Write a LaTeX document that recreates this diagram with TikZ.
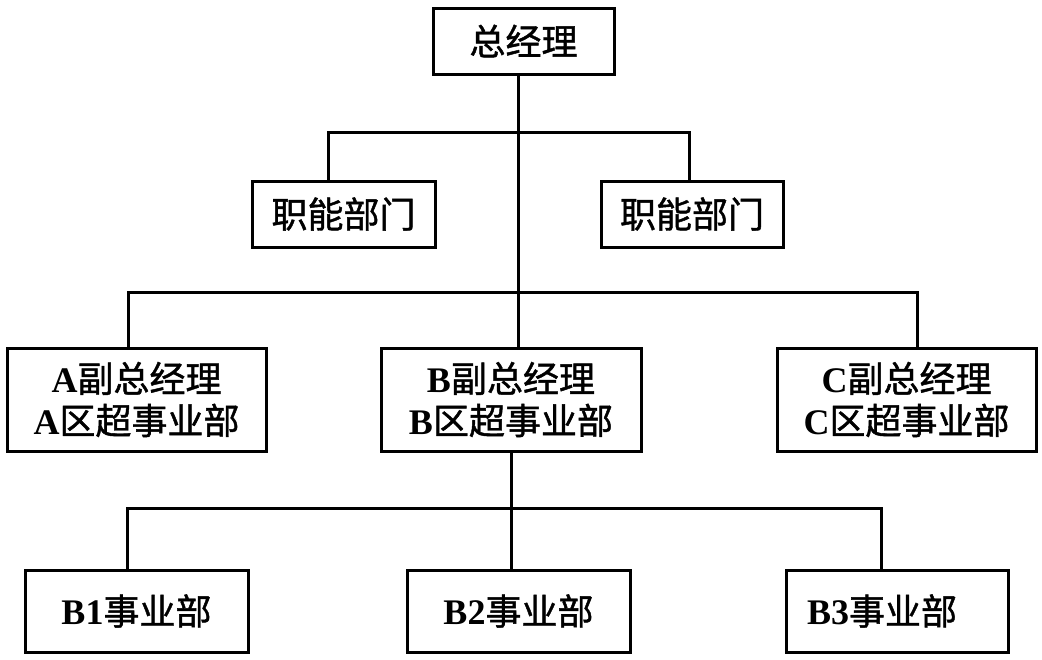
\documentclass[tikz,border=0pt]{standalone}
\usepackage{fontspec}
\usepackage{tikz}
\setmainfont{Liberation Serif}
\newfontfamily\cjk[FakeBold=1.2]{Noto Sans CJK SC}
\newcommand{\zh}[1]{{\cjk\mdseries #1}}

\begin{document}
\begin{tikzpicture}[x=1pt,y=-1pt,
    unit/.style={draw, line width=3pt, inner sep=0pt, align=center,
      font=\fontsize{36}{42}\selectfont\bfseries},
    link/.style={line width=3pt}]
        \useasboundingbox (0,0) rectangle (1042,659);
        % top level
        \node[unit, minimum width=181, minimum height=66] (gm) at (523.5,41) {\zh{总经理}};
        \node[unit, minimum width=183, minimum height=66] (fnL) at (343.5,214) {\zh{职能部门}};
        \node[unit, minimum width=182, minimum height=66] (fnR) at (692,214) {\zh{职能部门}};
        % vice managers
        \node[unit, minimum width=259, minimum height=103] (vpA) at (136.5,399.5) {A\zh{副总经理}\\A\zh{区超事业部}};
        \node[unit, minimum width=260, minimum height=103] (vpB) at (511,399.5) {B\zh{副总经理}\\B\zh{区超事业部}};
        \node[unit, minimum width=259, minimum height=103] (vpC) at (906.5,399.5) {C\zh{副总经理}\\C\zh{区超事业部}};
        % business units under B
        \node[unit, minimum width=223, minimum height=82] (bu1) at (136.5,611) {B1\zh{事业部}};
        \node[unit, minimum width=223, minimum height=82] (bu2) at (518.5,611) {B2\zh{事业部}};
        \node[unit, minimum width=222, minimum height=82] (bu3) at (897,611) {\hspace*{-30pt}B3\zh{事业部}};
        % bus points
        \coordinate (t2) at (518,292);
        \coordinate (t3) at (511,508);
        \coordinate (u1) at (328,132);
        \coordinate (u2) at (689,132);
        \coordinate (m1) at (128,292);
        \coordinate (m2) at (917,292);
        \coordinate (l1) at (127,508);
        \coordinate (l2) at (881,508);
        \draw[link] (gm.south -| t2) -- (t2 |- vpB.north);
        \draw[link] (u1 |- fnL.north) -- (u1) -- (u2) -- (u2 |- fnR.north);
        \draw[link] (m1 |- vpA.north) -- (m1) -- (m2) -- (m2 |- vpC.north);
        \draw[link] (vpB.south -| t3) -- (t3 |- bu2.north);
        \draw[link] (l1 |- bu1.north) -- (l1) -- (l2) -- (l2 |- bu3.north);
      \end{tikzpicture}
\end{document}
